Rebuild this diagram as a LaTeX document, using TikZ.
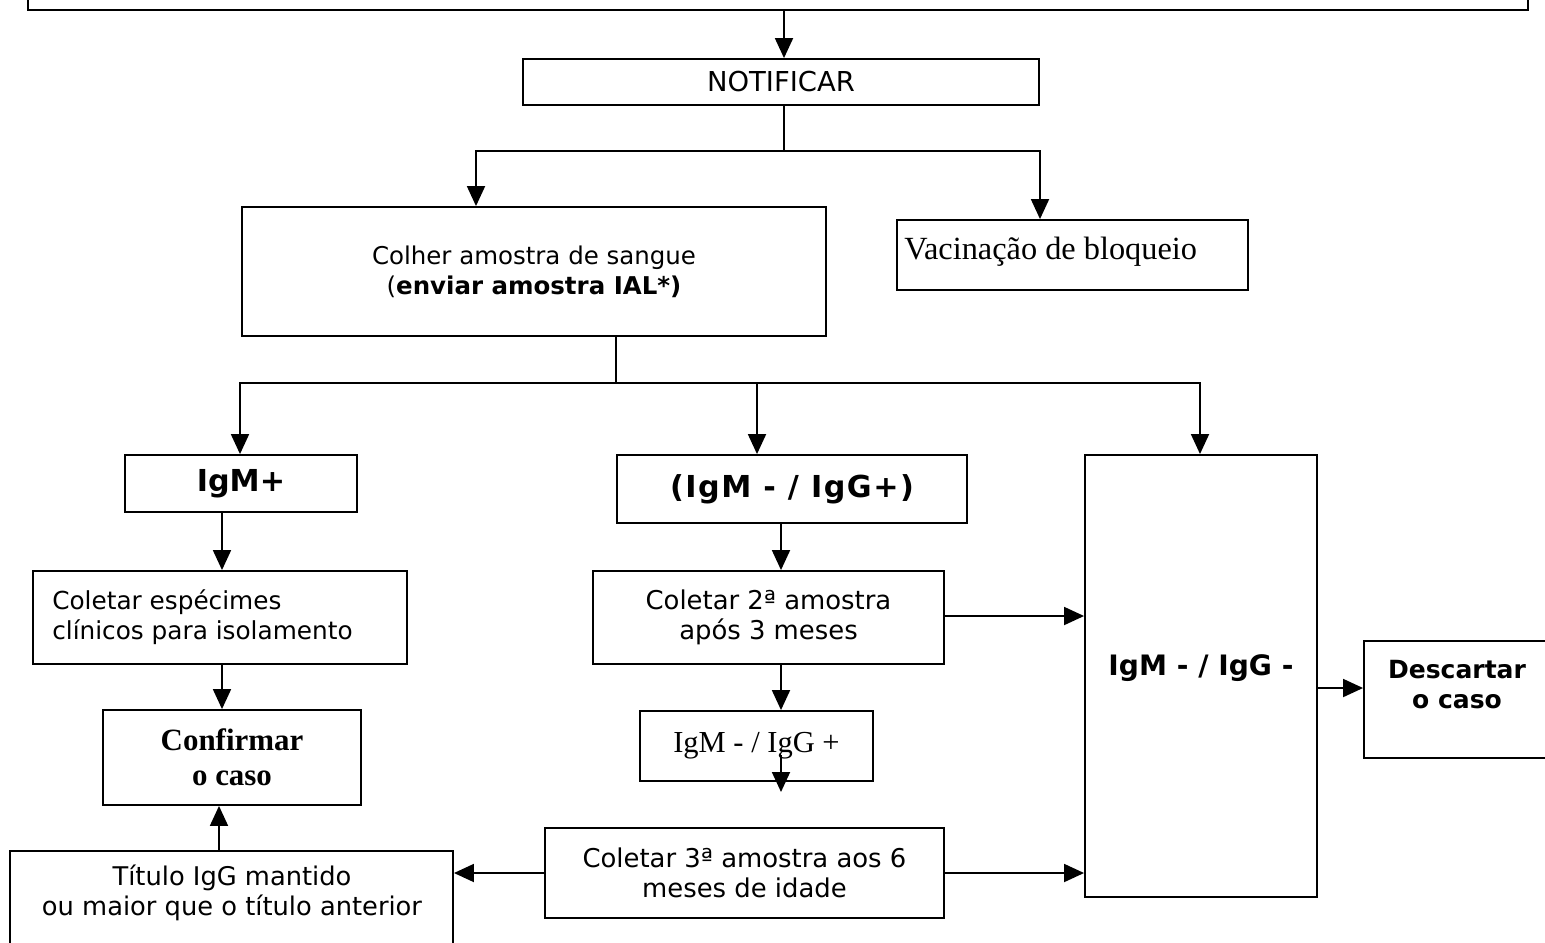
\documentclass[tikz,border=0pt]{standalone}
\usepackage{fontspec}
\usetikzlibrary{arrows.meta}
\newfontfamily\vf{DejaVu Sans}
\newfontfamily\vfwide[LetterSpace=5]{DejaVu Sans}
\newfontfamily\tf{Liberation Serif}
\begin{document}
\begin{tikzpicture}[x=0.025cm,y=-0.025cm,
  box/.style={draw, line width=1.3pt, inner sep=0pt, align=center, font=\vf\fontsize{17.6}{21.3}\selectfont},
  lbl/.style={inner sep=0pt, align=center, font=\vf\fontsize{17.6}{21.3}\selectfont},
  bold/.style={font=\vf\bfseries\fontsize{20}{23}\selectfont},
  bigbold/.style={font=\vf\bfseries\fontsize{21.5}{25}\selectfont},
  widebold/.style={font=\vfwide\bfseries\fontsize{21.5}{25}\selectfont},
  arr/.style={line width=1.3pt, -{Triangle[width=0.45cm,length=0.5cm]}},
  ln/.style={line width=1.3pt}]
\fill[white] (0,0) rectangle (1545,942);
\useasboundingbox (0,0) rectangle (1545,942);

% boxes
\node[box, minimum width=37.5cm, minimum height=1.25cm] (top) at (778,-15) {};
\node[box, minimum width=12.9cm, minimum height=1.15cm, font=\vf\fontsize{19.5}{23}\selectfont] (notif) at (781,82) {NOTIFICAR};
\node[box, minimum width=14.6cm, minimum height=3.225cm, font=\vf\fontsize{17.4}{21.3}\selectfont] (colher) at (534,271.5)
  {Colher amostra de sangue\\(\textbf{enviar amostra IAL*)}};
\node[box, minimum width=8.775cm, minimum height=1.75cm] (vac) at (1072.5,255) {};
\node[lbl, anchor=west, font=\tf\fontsize{23}{26}\selectfont] (vact) at (904,252) {Vacinação de bloqueio};
\node[box, bigbold, minimum width=5.8cm, minimum height=1.425cm] (igmp) at (241,483.5) {IgM+};
\node[box, widebold, minimum width=8.75cm, minimum height=1.7cm] (igmn) at (792,489) {(IgM - / IgG+)};
\node[box, minimum width=5.8cm, minimum height=11.05cm] (big) at (1201,676) {};
\node[lbl, bold] (bigt) at (1201,668) {IgM - / IgG -};
\node[box, minimum width=9.35cm, minimum height=2.325cm] (esp) at (220,617.5) {};
\node[lbl, anchor=west, align=left] (espt) at (52,617) {Coletar espécimes\\clínicos para isolamento};
\node[box, minimum width=8.775cm, minimum height=2.325cm, font=\vf\fontsize{18.4}{21.5}\selectfont] (c2) at (768.5,617.5) {Coletar 2ª amostra\\após 3 meses};
\node[box, minimum width=6.45cm, minimum height=2.375cm, font=\tf\bfseries\fontsize{22}{25}\selectfont] (conf) at (232,757.5) {Confirmar\\o caso};
\node[box, minimum width=5.825cm, minimum height=1.75cm, font=\tf\fontsize{21.7}{25}\selectfont] (igmgp) at (756.5,746) {IgM - / IgG +};
\node[box, minimum width=4.9cm, minimum height=2.925cm] (desc) at (1462,699.5) {};
\node[lbl, font=\vf\bfseries\fontsize{17.8}{21.3}\selectfont] (desct) at (1457,685) {Descartar\\o caso};
\node[box, minimum width=11.075cm, minimum height=2.725cm] (tit) at (231.5,905.5) {};
\node[lbl, font=\vf\fontsize{18.3}{21.5}\selectfont] (titt) at (232,893) {Título IgG mantido\\ou maior que o título anterior};
\node[box, minimum width=9.975cm, minimum height=2.25cm, font=\vf\fontsize{18.4}{21.5}\selectfont] (c3) at (744.5,873) {Coletar 3ª amostra aos 6\\meses de idade};

% reference columns / rows
\coordinate (x784) at (784,0);
\coordinate (x476) at (476,0);
\coordinate (x1040) at (1040,0);
\coordinate (x240) at (240,0);
\coordinate (x757) at (757,0);
\coordinate (x1200) at (1200,0);
\coordinate (x222) at (222,0);
\coordinate (x219) at (219,0);
\coordinate (x781) at (781,0);
\coordinate (y616) at (0,616);
\coordinate (y688) at (0,688);
\coordinate (j1) at (784,151);
\coordinate (j2) at (616,383);
\coordinate (d1) at (781,755);
\coordinate (d2) at (781,792);

% connectors
\draw[arr] (top.south -| x784) -- (notif.north -| x784);
\draw[ln] (notif.south -| j1) -- (j1);
\draw[arr] (j1) -| (colher.north -| x476);
\draw[arr] (j1) -| (vac.north -| x1040);
\draw[ln] (colher.south -| j2) -- (j2);
\draw[arr] (j2) -| (igmp.north -| x240);
\draw[arr] (j2) -| (igmn.north -| x757);
\draw[arr] (j2) -| (big.north -| x1200);
\draw[arr] (igmp.south -| x222) -- (esp.north -| x222);
\draw[arr] (esp.south -| x222) -- (conf.north -| x222);
\draw[arr] (tit.north -| x219) -- (conf.south -| x219);
\draw[arr] (igmn.south -| x781) -- (c2.north -| x781);
\draw[arr] (c2.east |- y616) -- (big.west |- y616);
\draw[arr] (c2.south -| x781) -- (igmgp.north -| x781);
\draw[arr] (d1) -- (d2);
\draw[arr] (c3.west) -- (tit.east |- c3.west);
\draw[arr] (c3.east) -- (big.west |- c3.east);
\draw[arr] (big.east |- y688) -- (desc.west |- y688);
\end{tikzpicture}
\end{document}
